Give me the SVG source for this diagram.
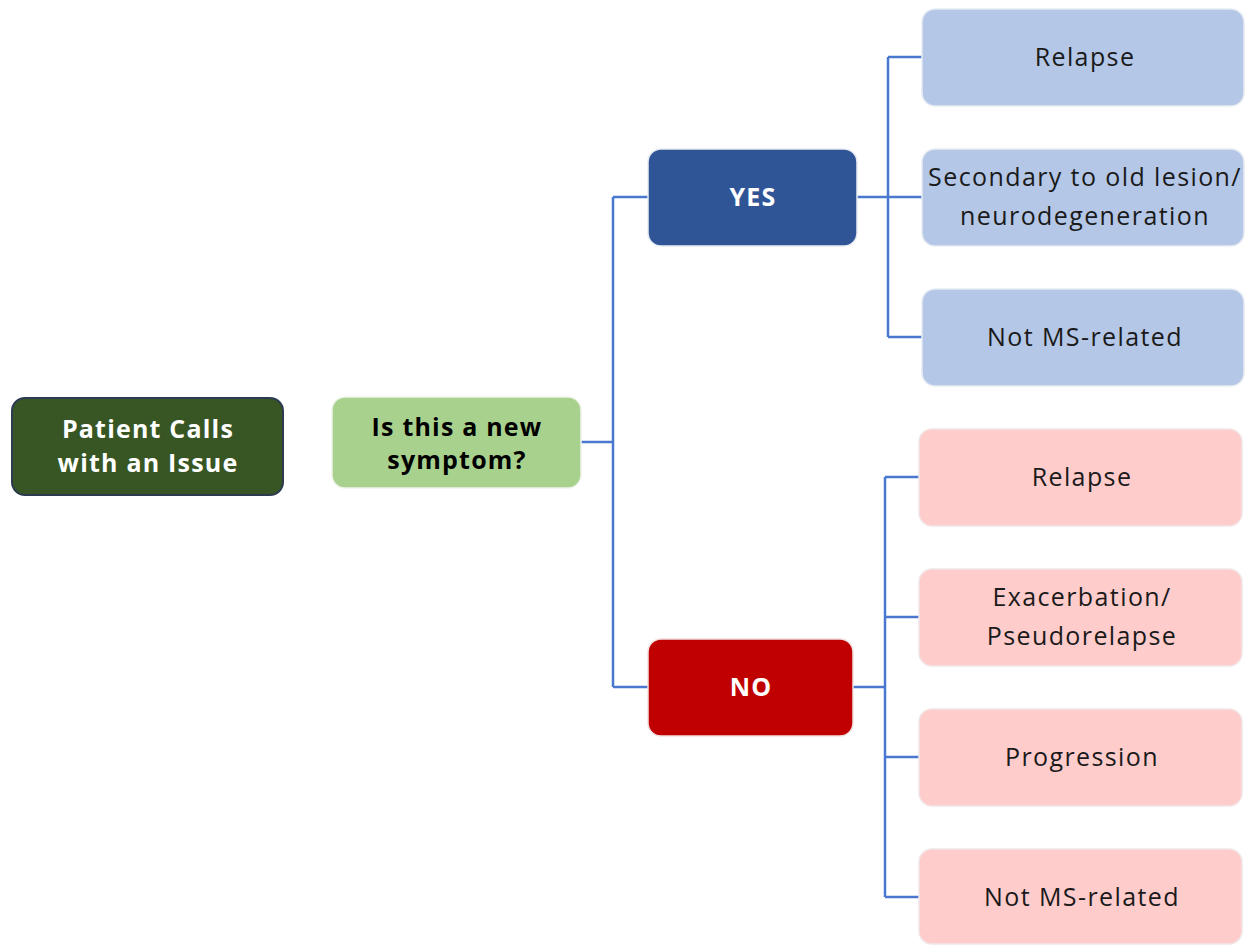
<svg xmlns="http://www.w3.org/2000/svg" width="1246" height="945" viewBox="0 0 1246 945">
<style>
.t{font-family:"Open Sans","Noto Sans","Liberation Sans",sans-serif;text-anchor:middle}
.b{font-weight:700;font-size:25px;letter-spacing:1.2px}
.r{font-weight:400;font-size:25px;letter-spacing:1.4px;fill:#1a1a1a}
.w{fill:#ffffff}
.k{fill:#000000}
.blue{fill:#b4c7e7;stroke:#e8ecf2;stroke-width:1.5}
.pink{fill:#ffcccc;stroke:#f1e6e6;stroke-width:1.5}
.c{fill:none;stroke:#4a78d0;stroke-width:2.5}
</style>
<rect width="1246" height="945" fill="#ffffff"/>
<g id="connectors">
<path class="c" d="M581,442H613M613,197V687M613,197H648M613,687H648"/>
<path class="c" d="M857,197H922M888,57V337M888,57H922M888,337H922"/>
<path class="c" d="M853,687H885M885,477V897M885,477H919M885,617H919M885,757H919M885,897H919"/>
</g>
<g id="patient">
<rect x="12" y="398" width="271" height="97" rx="13" fill="#375623" stroke="#2c3b4f" stroke-width="2"/>
<text class="t b w" x="148" y="438">Patient Calls</text>
<text class="t b w" x="148" y="472">with an Issue</text>
</g>
<g id="question">
<rect x="332" y="397" width="249" height="91" rx="13" fill="#a9d18e" stroke="#eef3ea" stroke-width="1.5"/>
<text class="t b k" x="457" y="436">Is this a new</text>
<text class="t b k" x="457" y="469">symptom?</text>
</g>
<g id="yes">
<rect x="648" y="149" width="209" height="97" rx="13" fill="#2f5597" stroke="#e8ecf2" stroke-width="1.5"/>
<text class="t b w" x="753" y="206">YES</text>
</g>
<g id="no">
<rect x="648" y="639" width="205" height="97" rx="13" fill="#c00000" stroke="#f0e0e0" stroke-width="1.5"/>
<text class="t b w" x="751" y="696">NO</text>
</g>
<g id="yes-relapse">
<rect class="blue" x="922" y="9" width="322" height="97" rx="13"/>
<text class="t r" x="1085" y="66">Relapse</text>
</g>
<g id="yes-secondary">
<rect class="blue" x="922" y="149" width="322" height="97" rx="13"/>
<text class="t r" x="1085" y="186">Secondary to old lesion/</text>
<text class="t r" x="1085" y="225">neurodegeneration</text>
</g>
<g id="yes-notms">
<rect class="blue" x="922" y="289" width="322" height="97" rx="13"/>
<text class="t r" x="1085" y="346">Not MS-related</text>
</g>
<g id="no-relapse">
<rect class="pink" x="919" y="429" width="323" height="97" rx="13"/>
<text class="t r" x="1082" y="486">Relapse</text>
</g>
<g id="no-exacerbation">
<rect class="pink" x="919" y="569" width="323" height="97" rx="13"/>
<text class="t r" x="1082" y="606">Exacerbation/</text>
<text class="t r" x="1082" y="645">Pseudorelapse</text>
</g>
<g id="no-progression">
<rect class="pink" x="919" y="709" width="323" height="97" rx="13"/>
<text class="t r" x="1082" y="766">Progression</text>
</g>
<g id="no-notms">
<rect class="pink" x="919" y="849" width="323" height="95" rx="13"/>
<text class="t r" x="1082" y="906">Not MS-related</text>
</g>
</svg>
